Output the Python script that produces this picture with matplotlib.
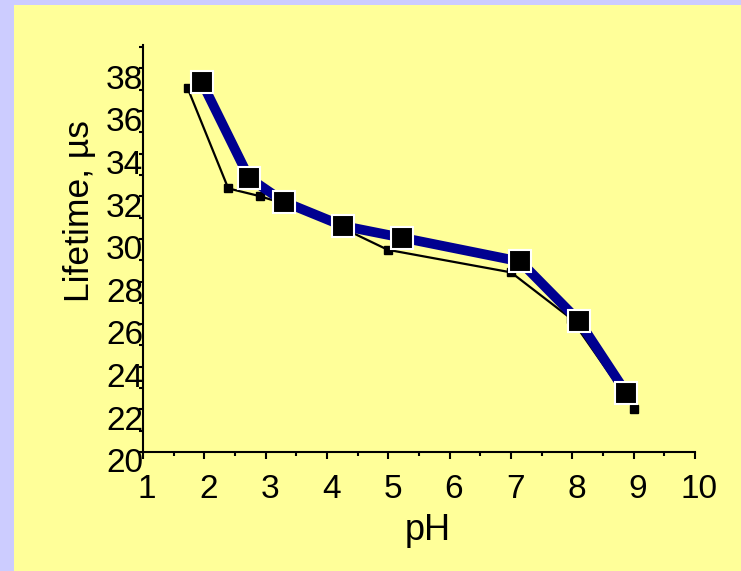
import matplotlib.pyplot as plt
from matplotlib.patches import Rectangle
from matplotlib.transforms import ScaledTranslation
from matplotlib.ticker import MultipleLocator

plt.rcParams['font.family'] = ['Liberation Sans', 'DejaVu Sans']

# lifetime vs pH, two measurement series
ph_main = [1.96, 2.73, 3.30, 4.26, 5.22, 7.15, 8.11, 8.88]
tau_main = [37.35, 32.86, 31.74, 30.61, 30.06, 28.94, 26.14, 22.77]

ph_ref = [1.73, 2.39, 2.90, 3.30, 4.26, 4.99, 7.00, 7.98, 9.00]
tau_ref = [37.06, 32.37, 32.01, 31.65, 30.50, 29.49, 28.43, 26.26, 22.04]

fig = plt.figure(figsize=(7.41, 5.71), dpi=100)
fig.patch.set_facecolor('#ccccff')
fig.patches.append(Rectangle((14 / 741, 0), 1, 566 / 571, transform=fig.transFigure,
                             facecolor='#ffff99', edgecolor='none', zorder=-10))

ax = fig.add_axes([143 / 741, 1 - 452 / 571, 552 / 741, 407 / 571])
ax.set_facecolor('none')

ax.plot(ph_ref, tau_ref, color='black', lw=1.6, marker='s', ms=5.5,
        mfc='black', mec='black', zorder=2)
ax.plot(ph_main, tau_main, color='#000090', lw=7, marker='s', ms=16,
        mfc='black', mec='white', mew=1.5, zorder=3, solid_joinstyle='round')

ax.set_xlim(1, 10)
ax.set_ylim(20, 39.1)
ax.xaxis.set_major_locator(MultipleLocator(1))
ax.xaxis.set_minor_locator(MultipleLocator(0.5))
ax.yaxis.set_major_locator(MultipleLocator(2))
ax.yaxis.set_minor_locator(MultipleLocator(1))

for side in ['top', 'right']:
    ax.spines[side].set_visible(False)
for side in ['left', 'bottom']:
    ax.spines[side].set_linewidth(1.5)

ax.tick_params(axis='x', which='major', direction='out', length=5, width=1.5,
               labelsize=24, pad=11)
ax.tick_params(axis='x', which='minor', direction='out', length=3, width=1.5)
ax.tick_params(axis='y', which='major', direction='out', length=3, width=1.5,
               labelsize=24, pad=-3)
ax.tick_params(axis='y', which='minor', direction='out', length=3, width=1.5)

# y labels sit a little below their ticks
shift = ScaledTranslation(0, -6 / 72, fig.dpi_scale_trans)
for lab in ax.get_yticklabels():
    lab.set_transform(lab.get_transform() + shift)
xshift = ScaledTranslation(3 / 72, 0, fig.dpi_scale_trans)
for lab in ax.get_xticklabels():
    lab.set_transform(lab.get_transform() + xshift)

ax.set_xlabel('pH', fontsize=26)
ax.set_ylabel('Lifetime, µs', fontsize=25.5)
ax.xaxis.set_label_coords(0.516, -0.15)
ax.yaxis.set_label_coords(-0.086, 0.592)

fig.savefig('out.png', dpi=100, facecolor=fig.get_facecolor())
